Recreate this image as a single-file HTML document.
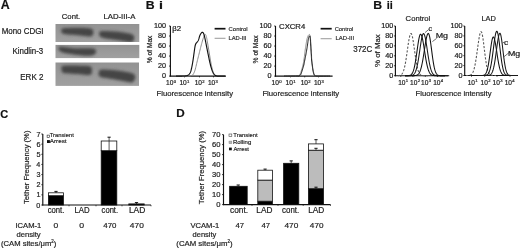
<!DOCTYPE html>
<html><head><meta charset="utf-8"><style>
html,body{margin:0;padding:0;background:#fff;width:520px;height:249px;overflow:hidden}
svg{display:block;font-family:"Liberation Sans", sans-serif;filter:blur(0.6px)}
text{stroke:#1e1e1e;stroke-width:0.2px}
</style></head><body>
<svg width="520" height="249" viewBox="0 0 520 249">
<rect width="520" height="249" fill="#fff"/>
<text transform="translate(0.79,8.50) scale(1.032,1)" font-size="12.0" font-weight="bold" fill="#111">A</text>
<text transform="translate(61.81,18.90) scale(1.001,1)" font-size="7.7" fill="#1e1e1e">Cont.</text>
<text transform="translate(103.38,18.90) scale(1.012,1)" font-size="7.7" fill="#1e1e1e">LAD-III-A</text>
<text transform="translate(1.66,33.70) scale(0.970,1)" font-size="8.2" fill="#1e1e1e">Mono CDGI</text>
<text transform="translate(12.47,54.20) scale(0.967,1)" font-size="8.2" fill="#1e1e1e">Kindlin-3</text>
<text transform="translate(20.26,79.60) scale(0.981,1)" font-size="8.2" fill="#1e1e1e">ERK 2</text>
<defs>
<filter id="blur1" x="-20%" y="-60%" width="140%" height="220%"><feGaussianBlur stdDeviation="1.4"/></filter>
<clipPath id="c1"><rect x="55.5" y="24" width="83.5" height="18"/></clipPath>
<clipPath id="c2"><rect x="55.5" y="44.9" width="83.5" height="13.5"/></clipPath>
<clipPath id="c3"><rect x="55.5" y="62.5" width="83.3" height="23.3"/></clipPath>
</defs>
<defs><linearGradient id="gp" x1="0" y1="0" x2="0" y2="1"><stop offset="0" stop-color="#939393"/><stop offset="1" stop-color="#a0a0a0"/></linearGradient></defs>
<rect x="55.5" y="24" width="83.8" height="18" fill="url(#gp)" stroke="none" stroke-width="0" />
<rect x="55.5" y="44.9" width="83.8" height="13.2" fill="url(#gp)" stroke="none" stroke-width="0" />
<rect x="55.5" y="62.5" width="83.5" height="23.4" fill="url(#gp)" stroke="none" stroke-width="0" />
<g clip-path="url(#c1)" filter="url(#blur1)"><path d="M61.30,30.36 L61.37,29.96 L61.37,29.56 L61.46,29.16 L61.79,28.80 L62.50,28.49 L63.75,28.23 L65.74,28.05 L68.39,27.92 L71.43,27.83 L74.57,27.79 L77.54,27.78 L80.07,27.79 L82.21,27.81 L84.19,27.85 L86.00,27.93 L87.63,28.04 L89.06,28.22 L90.27,28.46 L91.25,28.76 L92.01,29.11 L92.57,29.52 L92.95,29.99 L93.20,30.53 L93.33,31.15 L93.39,31.93 L93.37,32.90 L93.20,33.95 L92.84,34.94 L92.22,35.76 L91.29,36.30 L89.99,36.50 L88.34,36.45 L86.45,36.24 L84.38,35.94 L82.22,35.63 L80.07,35.40 L77.75,35.23 L75.15,35.05 L72.47,34.87 L69.89,34.68 L67.60,34.48 L65.79,34.28 L64.52,34.08 L63.64,33.90 L63.06,33.70 L62.66,33.48 L62.35,33.24 L62.02,32.94 L61.68,32.57 L61.44,32.15 L61.27,31.70 L61.19,31.23 L61.20,30.78Z" fill="#444"/></g>
<g clip-path="url(#c1)" filter="url(#blur1)"><path d="M99.26,32.67 L99.37,32.26 L99.45,31.89 L99.62,31.58 L99.98,31.32 L100.64,31.13 L101.71,30.99 L103.33,30.93 L105.44,30.95 L107.86,31.03 L110.38,31.15 L112.81,31.29 L114.97,31.44 L116.88,31.59 L118.71,31.77 L120.45,31.97 L122.11,32.19 L123.68,32.42 L125.17,32.67 L126.60,32.92 L127.97,33.16 L129.25,33.42 L130.42,33.71 L131.45,34.05 L132.31,34.46 L133.01,34.95 L133.56,35.51 L133.97,36.12 L134.24,36.75 L134.37,37.40 L134.35,38.05 L134.23,38.76 L134.01,39.57 L133.65,40.39 L133.11,41.13 L132.33,41.73 L131.29,42.08 L129.94,42.15 L128.31,42.00 L126.45,41.69 L124.42,41.29 L122.27,40.88 L120.07,40.51 L117.64,40.17 L114.89,39.81 L112.03,39.42 L109.25,39.03 L106.77,38.64 L104.77,38.27 L103.30,37.94 L102.21,37.64 L101.41,37.35 L100.81,37.04 L100.32,36.68 L99.88,36.26 L99.49,35.73 L99.24,35.11 L99.11,34.44 L99.08,33.78 L99.14,33.18Z" fill="#444"/></g>
<g clip-path="url(#c2)" filter="url(#blur1)"><path d="M58.43,47.65 L58.60,47.34 L58.82,47.09 L59.16,46.91 L59.70,46.78 L60.52,46.73 L61.70,46.75 L63.31,46.89 L65.30,47.15 L67.58,47.49 L70.02,47.83 L72.51,48.13 L74.96,48.32 L77.50,48.38 L80.27,48.34 L83.09,48.26 L85.81,48.17 L88.25,48.14 L90.26,48.21 L91.81,48.36 L93.05,48.55 L94.01,48.80 L94.75,49.09 L95.32,49.46 L95.77,49.89 L96.07,50.43 L96.17,51.10 L96.11,51.83 L95.90,52.57 L95.57,53.24 L95.15,53.81 L94.65,54.27 L94.04,54.68 L93.31,55.03 L92.44,55.33 L91.43,55.55 L90.26,55.71 L88.92,55.79 L87.44,55.80 L85.81,55.75 L84.03,55.63 L82.11,55.47 L80.06,55.26 L77.69,54.99 L74.96,54.65 L72.09,54.26 L69.29,53.84 L66.78,53.42 L64.76,53.02 L63.27,52.66 L62.16,52.31 L61.33,51.96 L60.69,51.60 L60.17,51.21 L59.66,50.78 L59.18,50.29 L58.80,49.72 L58.52,49.13 L58.37,48.56 L58.33,48.05Z" fill="#444"/></g>
<g clip-path="url(#c3)" filter="url(#blur1)"><path d="M61.51,67.54 L61.57,67.07 L61.54,66.67 L61.58,66.33 L61.87,66.05 L62.54,65.82 L63.76,65.64 L65.73,65.52 L68.38,65.47 L71.42,65.47 L74.57,65.51 L77.55,65.57 L80.08,65.64 L82.23,65.69 L84.25,65.73 L86.10,65.79 L87.74,65.90 L89.15,66.10 L90.28,66.42 L91.08,66.89 L91.58,67.48 L91.83,68.15 L91.93,68.88 L91.93,69.62 L91.91,70.34 L91.93,71.12 L91.93,71.98 L91.83,72.86 L91.58,73.68 L91.08,74.36 L90.28,74.82 L89.13,75.03 L87.70,75.03 L86.03,74.89 L84.17,74.68 L82.17,74.45 L80.08,74.26 L77.68,74.11 L74.89,73.94 L71.96,73.76 L69.14,73.56 L66.66,73.36 L64.78,73.14 L63.57,72.95 L62.85,72.78 L62.48,72.60 L62.31,72.38 L62.21,72.09 L62.02,71.69 L61.78,71.13 L61.59,70.42 L61.46,69.64 L61.40,68.86 L61.41,68.13Z" fill="#444"/></g>
<g clip-path="url(#c3)" filter="url(#blur1)"><path d="M99.03,71.58 L99.16,71.04 L99.28,70.59 L99.49,70.22 L99.89,69.93 L100.59,69.71 L101.68,69.56 L103.28,69.50 L105.31,69.54 L107.65,69.64 L110.13,69.81 L112.61,70.01 L114.94,70.23 L117.23,70.49 L119.62,70.80 L122.02,71.14 L124.31,71.51 L126.40,71.88 L128.20,72.25 L129.69,72.59 L130.96,72.92 L132.04,73.26 L132.94,73.62 L133.69,74.02 L134.32,74.49 L134.81,75.03 L135.12,75.63 L135.29,76.28 L135.33,76.95 L135.27,77.63 L135.14,78.30 L134.92,79.01 L134.61,79.81 L134.20,80.61 L133.68,81.34 L133.05,81.94 L132.28,82.33 L131.43,82.49 L130.52,82.47 L129.49,82.31 L128.28,82.05 L126.85,81.75 L125.14,81.43 L123.00,81.07 L120.46,80.62 L117.68,80.11 L114.86,79.59 L112.19,79.08 L109.84,78.63 L107.73,78.27 L105.71,77.98 L103.82,77.70 L102.14,77.40 L100.73,77.01 L99.64,76.50 L98.94,75.81 L98.60,74.96 L98.53,74.03 L98.63,73.11 L98.83,72.26Z" fill="#444"/></g>
<text transform="translate(145.80,8.70) scale(1.069,1)" font-size="11.5" font-weight="bold" fill="#111">B</text>
<text transform="translate(158.90,8.70) scale(1.242,1)" font-size="11.5" font-weight="bold" fill="#111">i</text>
<line x1="170.4" y1="26.0" x2="170.4" y2="76.6" stroke="#111" stroke-width="1.15" />
<line x1="169.9" y1="76.1" x2="226" y2="76.1" stroke="#111" stroke-width="1.15" />
<line x1="169.0" y1="76.1" x2="170.4" y2="76.1" stroke="#111" stroke-width="0.8" />
<text transform="translate(162.03,78.30) scale(1.150,1)" font-size="6.3" fill="#1e1e1e">0</text>
<line x1="169.0" y1="66.08" x2="170.4" y2="66.08" stroke="#111" stroke-width="0.8" />
<text transform="translate(158.01,68.28) scale(1.150,1)" font-size="6.3" fill="#1e1e1e">20</text>
<line x1="169.0" y1="56.059999999999995" x2="170.4" y2="56.059999999999995" stroke="#111" stroke-width="0.8" />
<text transform="translate(158.01,58.26) scale(1.150,1)" font-size="6.3" fill="#1e1e1e">40</text>
<line x1="169.0" y1="46.04" x2="170.4" y2="46.04" stroke="#111" stroke-width="0.8" />
<text transform="translate(158.01,48.24) scale(1.150,1)" font-size="6.3" fill="#1e1e1e">60</text>
<line x1="169.0" y1="36.019999999999996" x2="170.4" y2="36.019999999999996" stroke="#111" stroke-width="0.8" />
<text transform="translate(158.01,38.22) scale(1.150,1)" font-size="6.3" fill="#1e1e1e">80</text>
<line x1="169.0" y1="26.0" x2="170.4" y2="26.0" stroke="#111" stroke-width="0.8" />
<text transform="translate(153.99,28.20) scale(1.150,1)" font-size="6.3" fill="#1e1e1e">100</text>
<line x1="184.5" y1="76.1" x2="184.5" y2="77.39999999999999" stroke="#111" stroke-width="0.7" />
<line x1="199.5" y1="76.1" x2="199.5" y2="77.39999999999999" stroke="#111" stroke-width="0.7" />
<line x1="213.5" y1="76.1" x2="213.5" y2="77.39999999999999" stroke="#111" stroke-width="0.7" />
<text transform="translate(166.10,85.20) scale(1.000,1)" font-size="6.6" fill="#1e1e1e">10<tspan font-size="4.2" dx="0.3" dy="-2.6">0</tspan></text>
<text transform="translate(179.41,85.20) scale(1.000,1)" font-size="6.6" fill="#1e1e1e">10<tspan font-size="4.2" dx="0.3" dy="-2.6">1</tspan></text>
<text transform="translate(194.70,85.20) scale(1.000,1)" font-size="6.6" fill="#1e1e1e">10<tspan font-size="4.2" dx="0.3" dy="-2.6">2</tspan></text>
<text transform="translate(207.91,85.20) scale(1.000,1)" font-size="6.6" fill="#1e1e1e">10<tspan font-size="4.2" dx="0.3" dy="-2.6">3</tspan></text>
<text transform="translate(172.25,30.80) scale(1.222,1)" font-size="6.4" fill="#1e1e1e">β2</text>
<text transform="translate(156.58,95.80) scale(0.999,1)" font-size="7.7" fill="#1e1e1e">Fluorescence intensity</text>
<text transform="translate(152.30,63.23) rotate(-90) scale(0.949,1)" font-size="7.0" fill="#1e1e1e">% of Max</text>
<line x1="214.6" y1="28.7" x2="225.5" y2="28.7" stroke="#111" stroke-width="1.7" />
<text transform="translate(228.61,30.60) scale(1.179,1)" font-size="5.0" fill="#3a3a3a" style="stroke-width:0.16px">Control</text>
<line x1="214.6" y1="38.3" x2="225.5" y2="38.3" stroke="#a0a0a0" stroke-width="1.1" />
<text transform="translate(228.43,40.00) scale(1.163,1)" font-size="5.0" fill="#3a3a3a" style="stroke-width:0.16px">LAD-III</text>
<path d="M176.00,76.10 L177.41,76.09 L179.44,76.09 L181.81,76.07 L184.22,76.06 L186.38,76.04 L188.00,76.00 L189.03,75.96 L189.70,75.91 L190.12,75.86 L190.41,75.79 L190.66,75.70 L191.00,75.60 L191.39,75.51 L191.74,75.44 L192.06,75.35 L192.37,75.21 L192.68,74.97 L193.00,74.60 L193.33,74.11 L193.67,73.52 L194.00,72.84 L194.33,72.07 L194.67,71.19 L195.00,70.20 L195.33,69.06 L195.67,67.77 L196.00,66.38 L196.33,64.93 L196.67,63.49 L197.00,62.10 L197.33,60.76 L197.67,59.43 L198.00,58.09 L198.33,56.76 L198.67,55.43 L199.00,54.10 L199.33,52.76 L199.67,51.40 L200.00,50.04 L200.33,48.70 L200.67,47.38 L201.00,46.10 L201.34,44.82 L201.70,43.53 L202.05,42.26 L202.39,41.06 L202.71,39.96 L203.00,39.00 L203.25,38.19 L203.47,37.51 L203.67,36.93 L203.85,36.43 L204.03,36.00 L204.20,35.60 L204.37,35.25 L204.53,34.96 L204.67,34.74 L204.82,34.57 L204.96,34.46 L205.10,34.40 L205.24,34.39 L205.37,34.44 L205.51,34.55 L205.64,34.71 L205.77,34.93 L205.90,35.20 L206.03,35.53 L206.16,35.90 L206.29,36.34 L206.43,36.83 L206.56,37.38 L206.70,38.00 L206.84,38.69 L206.99,39.47 L207.14,40.30 L207.29,41.18 L207.44,42.08 L207.60,43.00 L207.76,43.94 L207.93,44.93 L208.09,45.94 L208.26,46.96 L208.43,47.99 L208.60,49.00 L208.77,50.00 L208.93,51.00 L209.10,52.00 L209.27,53.00 L209.43,54.00 L209.60,55.00 L209.77,56.01 L209.93,57.02 L210.09,58.03 L210.26,59.04 L210.43,60.03 L210.60,61.00 L210.78,61.95 L210.95,62.89 L211.13,63.81 L211.31,64.72 L211.50,65.62 L211.70,66.50 L211.90,67.38 L212.11,68.27 L212.32,69.15 L212.54,69.99 L212.76,70.78 L213.00,71.50 L213.25,72.15 L213.50,72.74 L213.76,73.29 L214.03,73.78 L214.31,74.22 L214.60,74.60 L214.89,74.92 L215.19,75.17 L215.49,75.38 L215.81,75.54 L216.15,75.67 L216.50,75.80 L216.84,75.91 L217.16,75.98 L217.49,76.02 L217.89,76.06 L218.37,76.08 L219.00,76.10 L219.87,76.12 L220.96,76.12 L222.16,76.12 L223.31,76.11 L224.31,76.10 L225.00,76.10" stroke="#8c8c8c" stroke-width="1.0" fill="none" stroke-linejoin="round" />
<path d="M176.00,76.10 L176.93,76.09 L178.26,76.09 L179.81,76.07 L181.41,76.06 L182.86,76.04 L184.00,76.00 L184.80,75.96 L185.41,75.92 L185.88,75.87 L186.26,75.80 L186.62,75.72 L187.00,75.60 L187.40,75.46 L187.76,75.30 L188.09,75.12 L188.41,74.92 L188.71,74.68 L189.00,74.40 L189.28,74.08 L189.56,73.73 L189.81,73.34 L190.06,72.93 L190.28,72.48 L190.50,72.00 L190.70,71.50 L190.87,70.97 L191.03,70.41 L191.19,69.82 L191.34,69.18 L191.50,68.50 L191.67,67.77 L191.83,67.00 L192.00,66.19 L192.17,65.33 L192.33,64.44 L192.50,63.50 L192.67,62.50 L192.84,61.44 L193.01,60.34 L193.17,59.22 L193.34,58.10 L193.50,57.00 L193.66,55.89 L193.81,54.76 L193.97,53.62 L194.12,52.52 L194.26,51.47 L194.40,50.50 L194.53,49.61 L194.64,48.77 L194.76,47.99 L194.87,47.27 L194.98,46.61 L195.10,46.00 L195.23,45.46 L195.35,45.00 L195.48,44.59 L195.61,44.23 L195.75,43.91 L195.90,43.60 L196.06,43.33 L196.22,43.12 L196.39,42.94 L196.56,42.77 L196.73,42.60 L196.90,42.40 L197.07,42.19 L197.24,41.97 L197.41,41.75 L197.57,41.52 L197.74,41.27 L197.90,41.00 L198.06,40.71 L198.21,40.41 L198.36,40.09 L198.51,39.75 L198.66,39.39 L198.80,39.00 L198.94,38.57 L199.07,38.10 L199.19,37.61 L199.32,37.12 L199.46,36.64 L199.60,36.20 L199.76,35.79 L199.92,35.39 L200.09,35.01 L200.26,34.64 L200.43,34.31 L200.60,34.00 L200.77,33.72 L200.94,33.47 L201.11,33.24 L201.28,33.03 L201.44,32.85 L201.60,32.70 L201.74,32.57 L201.88,32.47 L202.01,32.39 L202.14,32.33 L202.27,32.30 L202.40,32.30 L202.53,32.32 L202.67,32.35 L202.80,32.41 L202.93,32.50 L203.07,32.63 L203.20,32.80 L203.33,33.00 L203.46,33.22 L203.59,33.48 L203.72,33.79 L203.86,34.16 L204.00,34.60 L204.16,35.13 L204.32,35.73 L204.49,36.40 L204.66,37.11 L204.83,37.85 L205.00,38.60 L205.17,39.38 L205.33,40.19 L205.50,41.04 L205.67,41.90 L205.83,42.76 L206.00,43.60 L206.17,44.43 L206.33,45.27 L206.50,46.10 L206.67,46.93 L206.83,47.77 L207.00,48.60 L207.17,49.43 L207.33,50.27 L207.50,51.11 L207.67,51.94 L207.83,52.77 L208.00,53.60 L208.17,54.43 L208.33,55.26 L208.50,56.08 L208.67,56.90 L208.83,57.71 L209.00,58.50 L209.17,59.28 L209.33,60.05 L209.50,60.81 L209.67,61.55 L209.83,62.28 L210.00,63.00 L210.16,63.69 L210.32,64.36 L210.47,65.02 L210.64,65.67 L210.81,66.33 L211.00,67.00 L211.21,67.70 L211.43,68.43 L211.66,69.16 L211.90,69.88 L212.15,70.57 L212.40,71.20 L212.65,71.79 L212.91,72.35 L213.18,72.88 L213.44,73.36 L213.72,73.81 L214.00,74.20 L214.28,74.54 L214.57,74.82 L214.86,75.06 L215.16,75.26 L215.47,75.44 L215.80,75.60 L216.09,75.74 L216.33,75.85 L216.58,75.94 L216.90,76.00 L217.35,76.06 L218.00,76.10 L218.97,76.13 L220.24,76.14 L221.64,76.13 L223.01,76.12 L224.18,76.11 L225.00,76.10" stroke="#111" stroke-width="1.15" fill="none" stroke-linejoin="round" />
<line x1="275.5" y1="26.0" x2="275.5" y2="76.6" stroke="#111" stroke-width="1.15" />
<line x1="275.0" y1="76.1" x2="332.6" y2="76.1" stroke="#111" stroke-width="1.15" />
<line x1="274.1" y1="76.1" x2="275.5" y2="76.1" stroke="#111" stroke-width="0.8" />
<text transform="translate(267.53,78.30) scale(1.150,1)" font-size="6.3" fill="#1e1e1e">0</text>
<line x1="274.1" y1="66.08" x2="275.5" y2="66.08" stroke="#111" stroke-width="0.8" />
<text transform="translate(263.51,68.28) scale(1.150,1)" font-size="6.3" fill="#1e1e1e">20</text>
<line x1="274.1" y1="56.059999999999995" x2="275.5" y2="56.059999999999995" stroke="#111" stroke-width="0.8" />
<text transform="translate(263.51,58.26) scale(1.150,1)" font-size="6.3" fill="#1e1e1e">40</text>
<line x1="274.1" y1="46.04" x2="275.5" y2="46.04" stroke="#111" stroke-width="0.8" />
<text transform="translate(263.51,48.24) scale(1.150,1)" font-size="6.3" fill="#1e1e1e">60</text>
<line x1="274.1" y1="36.019999999999996" x2="275.5" y2="36.019999999999996" stroke="#111" stroke-width="0.8" />
<text transform="translate(263.51,38.22) scale(1.150,1)" font-size="6.3" fill="#1e1e1e">80</text>
<line x1="274.1" y1="26.0" x2="275.5" y2="26.0" stroke="#111" stroke-width="0.8" />
<text transform="translate(259.49,28.20) scale(1.150,1)" font-size="6.3" fill="#1e1e1e">100</text>
<line x1="290.5" y1="76.1" x2="290.5" y2="77.39999999999999" stroke="#111" stroke-width="0.7" />
<line x1="304.7" y1="76.1" x2="304.7" y2="77.39999999999999" stroke="#111" stroke-width="0.7" />
<line x1="318.5" y1="76.1" x2="318.5" y2="77.39999999999999" stroke="#111" stroke-width="0.7" />
<text transform="translate(271.50,85.20) scale(1.000,1)" font-size="6.6" fill="#1e1e1e">10<tspan font-size="4.2" dx="0.3" dy="-2.6">0</tspan></text>
<text transform="translate(285.50,85.20) scale(1.000,1)" font-size="6.6" fill="#1e1e1e">10<tspan font-size="4.2" dx="0.3" dy="-2.6">1</tspan></text>
<text transform="translate(300.70,85.20) scale(1.000,1)" font-size="6.6" fill="#1e1e1e">10<tspan font-size="4.2" dx="0.3" dy="-2.6">2</tspan></text>
<text transform="translate(313.90,85.20) scale(1.000,1)" font-size="6.6" fill="#1e1e1e">10<tspan font-size="4.2" dx="0.3" dy="-2.6">3</tspan></text>
<text transform="translate(279.11,28.80) scale(1.204,1)" font-size="6.4" fill="#1e1e1e">CXCR4</text>
<text transform="translate(262.38,95.80) scale(1.004,1)" font-size="7.7" fill="#1e1e1e">Fluorescence intensity</text>
<text transform="translate(258.40,63.44) rotate(-90) scale(0.959,1)" font-size="7.0" fill="#1e1e1e">% of Max</text>
<line x1="320.6" y1="28.7" x2="331.7" y2="28.7" stroke="#111" stroke-width="1.7" />
<text transform="translate(334.71,30.60) scale(1.147,1)" font-size="5.0" fill="#3a3a3a" style="stroke-width:0.16px">Control</text>
<line x1="320.6" y1="38.7" x2="331.7" y2="38.7" stroke="#a0a0a0" stroke-width="1.1" />
<text transform="translate(335.52,40.20) scale(1.197,1)" font-size="5.0" fill="#3a3a3a" style="stroke-width:0.16px">LAD-III</text>
<path d="M284.00,76.10 L285.42,76.09 L287.46,76.09 L289.84,76.08 L292.26,76.07 L294.41,76.04 L296.00,76.00 L296.98,75.95 L297.57,75.89 L297.91,75.81 L298.09,75.73 L298.25,75.62 L298.50,75.50 L298.81,75.39 L299.07,75.30 L299.31,75.19 L299.53,75.03 L299.76,74.78 L300.00,74.40 L300.26,73.86 L300.53,73.20 L300.81,72.44 L301.08,71.63 L301.34,70.81 L301.60,70.00 L301.85,69.20 L302.10,68.38 L302.34,67.54 L302.58,66.69 L302.80,65.84 L303.00,65.00 L303.18,64.17 L303.34,63.33 L303.49,62.50 L303.63,61.67 L303.77,60.83 L303.90,60.00 L304.03,59.17 L304.15,58.33 L304.27,57.50 L304.38,56.67 L304.49,55.83 L304.60,55.00 L304.70,54.17 L304.80,53.33 L304.89,52.50 L304.99,51.67 L305.09,50.83 L305.20,50.00 L305.32,49.17 L305.45,48.33 L305.59,47.50 L305.73,46.67 L305.86,45.83 L306.00,45.00 L306.13,44.15 L306.26,43.28 L306.39,42.41 L306.52,41.56 L306.66,40.75 L306.80,40.00 L306.96,39.31 L307.12,38.66 L307.29,38.04 L307.46,37.48 L307.63,36.96 L307.80,36.50 L307.97,36.10 L308.14,35.74 L308.31,35.44 L308.48,35.19 L308.64,34.98 L308.80,34.80 L308.95,34.66 L309.09,34.56 L309.23,34.51 L309.36,34.49 L309.48,34.52 L309.60,34.60 L309.71,34.71 L309.82,34.85 L309.93,35.04 L310.02,35.28 L310.11,35.60 L310.20,36.00 L310.28,36.50 L310.35,37.10 L310.42,37.77 L310.48,38.50 L310.54,39.25 L310.60,40.00 L310.66,40.78 L310.71,41.59 L310.76,42.44 L310.80,43.30 L310.85,44.16 L310.90,45.00 L310.95,45.83 L311.00,46.67 L311.05,47.50 L311.10,48.33 L311.15,49.17 L311.20,50.00 L311.25,50.83 L311.30,51.67 L311.35,52.50 L311.40,53.33 L311.45,54.17 L311.50,55.00 L311.55,55.83 L311.59,56.67 L311.63,57.50 L311.68,58.33 L311.73,59.17 L311.80,60.00 L311.88,60.83 L311.97,61.67 L312.07,62.50 L312.18,63.33 L312.29,64.17 L312.40,65.00 L312.51,65.84 L312.61,66.70 L312.72,67.56 L312.84,68.41 L312.96,69.22 L313.10,70.00 L313.25,70.75 L313.41,71.50 L313.58,72.21 L313.75,72.88 L313.92,73.48 L314.10,74.00 L314.27,74.42 L314.43,74.75 L314.60,75.02 L314.78,75.24 L314.98,75.42 L315.20,75.60 L315.33,75.75 L315.33,75.87 L315.36,75.95 L315.54,76.01 L316.04,76.06 L317.00,76.10 L318.67,76.13 L320.99,76.14 L323.61,76.13 L326.21,76.12 L328.46,76.11 L330.00,76.10" stroke="#8a8a8a" stroke-width="1.0" fill="none" stroke-linejoin="round" />
<path d="M284.00,76.10 L285.54,76.09 L287.77,76.09 L290.36,76.07 L292.99,76.06 L295.31,76.04 L297.00,76.00 L298.00,75.96 L298.56,75.92 L298.81,75.87 L298.91,75.80 L298.99,75.72 L299.20,75.60 L299.50,75.48 L299.78,75.38 L300.04,75.25 L300.30,75.07 L300.55,74.79 L300.80,74.40 L301.06,73.86 L301.31,73.19 L301.56,72.44 L301.80,71.63 L302.05,70.81 L302.30,70.00 L302.56,69.20 L302.82,68.38 L303.08,67.54 L303.34,66.69 L303.58,65.84 L303.80,65.00 L304.00,64.17 L304.17,63.33 L304.33,62.50 L304.49,61.67 L304.64,60.83 L304.80,60.00 L304.97,59.17 L305.14,58.33 L305.31,57.50 L305.47,56.67 L305.64,55.83 L305.80,55.00 L305.96,54.17 L306.11,53.33 L306.26,52.50 L306.41,51.67 L306.56,50.83 L306.70,50.00 L306.84,49.17 L306.98,48.33 L307.11,47.50 L307.24,46.67 L307.37,45.83 L307.50,45.00 L307.62,44.14 L307.74,43.26 L307.86,42.38 L307.97,41.52 L308.08,40.72 L308.20,40.00 L308.32,39.36 L308.44,38.78 L308.56,38.25 L308.67,37.78 L308.79,37.36 L308.90,37.00 L309.01,36.70 L309.11,36.46 L309.21,36.28 L309.31,36.15 L309.41,36.06 L309.50,36.00 L309.59,35.96 L309.68,35.94 L309.76,35.97 L309.84,36.06 L309.92,36.23 L310.00,36.50 L310.07,36.89 L310.14,37.39 L310.21,37.97 L310.28,38.61 L310.34,39.30 L310.40,40.00 L310.46,40.75 L310.51,41.56 L310.56,42.41 L310.60,43.28 L310.65,44.15 L310.70,45.00 L310.75,45.83 L310.80,46.67 L310.85,47.50 L310.90,48.33 L310.95,49.17 L311.00,50.00 L311.05,50.83 L311.10,51.67 L311.15,52.50 L311.20,53.33 L311.25,54.17 L311.30,55.00 L311.35,55.83 L311.39,56.67 L311.43,57.50 L311.48,58.33 L311.53,59.17 L311.60,60.00 L311.68,60.83 L311.77,61.67 L311.88,62.50 L311.98,63.33 L312.09,64.17 L312.20,65.00 L312.31,65.84 L312.42,66.70 L312.53,67.56 L312.65,68.41 L312.77,69.22 L312.90,70.00 L313.03,70.75 L313.17,71.50 L313.32,72.21 L313.47,72.88 L313.63,73.48 L313.80,74.00 L313.97,74.42 L314.15,74.75 L314.33,75.02 L314.53,75.24 L314.75,75.42 L315.00,75.60 L315.16,75.75 L315.20,75.87 L315.26,75.95 L315.49,76.01 L316.02,76.06 L317.00,76.10 L318.68,76.13 L321.00,76.14 L323.62,76.13 L326.22,76.12 L328.46,76.11 L330.00,76.10" stroke="#111" stroke-width="1.0" fill="none" stroke-linejoin="round" />
<text transform="translate(373.30,8.90) scale(1.069,1)" font-size="11.5" font-weight="bold" fill="#111">B</text>
<text transform="translate(386.73,8.90) scale(0.952,1)" font-size="11.5" font-weight="bold" fill="#111">ii</text>
<text transform="translate(353.28,51.60) scale(0.969,1)" font-size="8.2" fill="#1e1e1e">372C</text>
<line x1="395.4" y1="26.0" x2="395.4" y2="76.2" stroke="#111" stroke-width="1.15" />
<line x1="394.9" y1="75.7" x2="449.2" y2="75.7" stroke="#111" stroke-width="1.15" />
<line x1="394.0" y1="75.7" x2="395.4" y2="75.7" stroke="#111" stroke-width="0.8" />
<text transform="translate(389.23,77.91) scale(1.150,1)" font-size="6.3" fill="#1e1e1e">0</text>
<line x1="394.0" y1="65.76" x2="395.4" y2="65.76" stroke="#111" stroke-width="0.8" />
<text transform="translate(385.21,67.97) scale(1.150,1)" font-size="6.3" fill="#1e1e1e">20</text>
<line x1="394.0" y1="55.82" x2="395.4" y2="55.82" stroke="#111" stroke-width="0.8" />
<text transform="translate(385.21,58.02) scale(1.150,1)" font-size="6.3" fill="#1e1e1e">40</text>
<line x1="394.0" y1="45.879999999999995" x2="395.4" y2="45.879999999999995" stroke="#111" stroke-width="0.8" />
<text transform="translate(385.21,48.08) scale(1.150,1)" font-size="6.3" fill="#1e1e1e">60</text>
<line x1="394.0" y1="35.94" x2="395.4" y2="35.94" stroke="#111" stroke-width="0.8" />
<text transform="translate(385.21,38.14) scale(1.150,1)" font-size="6.3" fill="#1e1e1e">80</text>
<line x1="394.0" y1="26.0" x2="395.4" y2="26.0" stroke="#111" stroke-width="0.8" />
<text transform="translate(381.19,28.20) scale(1.150,1)" font-size="6.3" fill="#1e1e1e">100</text>
<line x1="400.8" y1="75.7" x2="400.8" y2="77.0" stroke="#111" stroke-width="0.7" />
<line x1="412.9" y1="75.7" x2="412.9" y2="77.0" stroke="#111" stroke-width="0.7" />
<line x1="425.3" y1="75.7" x2="425.3" y2="77.0" stroke="#111" stroke-width="0.7" />
<line x1="437.4" y1="75.7" x2="437.4" y2="77.0" stroke="#111" stroke-width="0.7" />
<text transform="translate(398.20,84.80) scale(1.000,1)" font-size="6.6" fill="#1e1e1e">10<tspan font-size="4.2" dx="0.3" dy="-2.6">1</tspan></text>
<text transform="translate(410.00,84.80) scale(1.000,1)" font-size="6.6" fill="#1e1e1e">10<tspan font-size="4.2" dx="0.3" dy="-2.6">2</tspan></text>
<text transform="translate(421.11,84.80) scale(1.000,1)" font-size="6.6" fill="#1e1e1e">10<tspan font-size="4.2" dx="0.3" dy="-2.6">3</tspan></text>
<text transform="translate(433.20,84.80) scale(1.000,1)" font-size="6.6" fill="#1e1e1e">10<tspan font-size="4.2" dx="0.3" dy="-2.6">4</tspan></text>
<text transform="translate(405.62,21.20) scale(0.958,1)" font-size="8.0" fill="#1e1e1e">Control</text>
<text transform="translate(380.40,66.97) rotate(-90) scale(1.122,1)" font-size="7.0" fill="#1e1e1e">% of Max</text>
<line x1="464.7" y1="26.0" x2="464.7" y2="76.0" stroke="#111" stroke-width="1.15" />
<line x1="464.2" y1="75.5" x2="518" y2="75.5" stroke="#111" stroke-width="1.15" />
<line x1="463.3" y1="75.5" x2="464.7" y2="75.5" stroke="#111" stroke-width="0.8" />
<text transform="translate(458.43,77.70) scale(1.150,1)" font-size="6.3" fill="#1e1e1e">0</text>
<line x1="463.3" y1="65.6" x2="464.7" y2="65.6" stroke="#111" stroke-width="0.8" />
<text transform="translate(454.41,67.80) scale(1.150,1)" font-size="6.3" fill="#1e1e1e">20</text>
<line x1="463.3" y1="55.7" x2="464.7" y2="55.7" stroke="#111" stroke-width="0.8" />
<text transform="translate(454.41,57.91) scale(1.150,1)" font-size="6.3" fill="#1e1e1e">40</text>
<line x1="463.3" y1="45.8" x2="464.7" y2="45.8" stroke="#111" stroke-width="0.8" />
<text transform="translate(454.41,48.00) scale(1.150,1)" font-size="6.3" fill="#1e1e1e">60</text>
<line x1="463.3" y1="35.9" x2="464.7" y2="35.9" stroke="#111" stroke-width="0.8" />
<text transform="translate(454.41,38.10) scale(1.150,1)" font-size="6.3" fill="#1e1e1e">80</text>
<line x1="463.3" y1="26.0" x2="464.7" y2="26.0" stroke="#111" stroke-width="0.8" />
<text transform="translate(450.39,28.20) scale(1.150,1)" font-size="6.3" fill="#1e1e1e">100</text>
<line x1="471.5" y1="75.5" x2="471.5" y2="76.8" stroke="#111" stroke-width="0.7" />
<line x1="484.7" y1="75.5" x2="484.7" y2="76.8" stroke="#111" stroke-width="0.7" />
<line x1="497" y1="75.5" x2="497" y2="76.8" stroke="#111" stroke-width="0.7" />
<line x1="510" y1="75.5" x2="510" y2="76.8" stroke="#111" stroke-width="0.7" />
<text transform="translate(467.70,84.80) scale(1.000,1)" font-size="6.6" fill="#1e1e1e">10<tspan font-size="4.2" dx="0.3" dy="-2.6">1</tspan></text>
<text transform="translate(480.50,84.80) scale(1.000,1)" font-size="6.6" fill="#1e1e1e">10<tspan font-size="4.2" dx="0.3" dy="-2.6">2</tspan></text>
<text transform="translate(492.50,84.80) scale(1.000,1)" font-size="6.6" fill="#1e1e1e">10<tspan font-size="4.2" dx="0.3" dy="-2.6">3</tspan></text>
<text transform="translate(504.70,84.80) scale(1.000,1)" font-size="6.6" fill="#1e1e1e">10<tspan font-size="4.2" dx="0.3" dy="-2.6">4</tspan></text>
<text transform="translate(481.40,21.20) scale(0.934,1)" font-size="8.0" fill="#1e1e1e">LAD</text>
<text transform="translate(415.59,95.80) scale(0.993,1)" font-size="7.7" fill="#1e1e1e">Fluorescence intensity</text>
<path d="M398.00,75.64 L398.25,75.62 L398.50,75.60 L398.75,75.57 L399.00,75.54 L399.25,75.49 L399.50,75.44 L399.75,75.38 L400.00,75.30 L400.25,75.21 L400.50,75.10 L400.75,74.97 L401.00,74.81 L401.25,74.62 L401.50,74.40 L401.75,74.15 L402.00,73.85 L402.25,73.50 L402.50,73.10 L402.75,72.65 L403.00,72.13 L403.25,71.54 L403.50,70.88 L403.75,70.15 L404.00,69.33 L404.25,68.42 L404.50,67.43 L404.75,66.35 L405.00,65.18 L405.25,63.91 L405.50,62.56 L405.75,61.13 L406.00,59.61 L406.25,58.03 L406.50,56.38 L406.75,54.68 L407.00,52.94 L407.25,51.17 L407.50,49.39 L407.75,47.62 L408.00,45.88 L408.25,44.18 L408.50,42.54 L408.75,40.99 L409.00,39.53 L409.25,38.20 L409.50,37.01 L409.75,35.97 L410.00,35.10 L410.25,34.41 L410.50,33.91 L410.75,33.60 L411.00,33.50 L411.25,33.61 L411.50,33.93 L411.75,34.46 L412.00,35.19 L412.25,36.11 L412.50,37.20 L412.75,38.46 L413.00,39.86 L413.25,41.38 L413.50,43.00 L413.75,44.71 L414.00,46.47 L414.25,48.28 L414.50,50.10 L414.75,51.93 L415.00,53.74 L415.25,55.51 L415.50,57.23 L415.75,58.90 L416.00,60.49 L416.25,62.00 L416.50,63.42 L416.75,64.75 L417.00,65.99 L417.25,67.13 L417.50,68.18 L417.75,69.13 L418.00,69.99 L418.25,70.76 L418.50,71.45 L418.75,72.06 L419.00,72.60 L419.25,73.08 L419.50,73.49 L419.75,73.85 L420.00,74.15 L420.25,74.42 L420.50,74.64 L420.75,74.83 L421.00,74.99 L421.25,75.12 L421.50,75.23 L421.75,75.32 L422.00,75.40 L422.25,75.46 L422.50,75.51 L422.75,75.55 L423.00,75.58 L423.25,75.61 L423.50,75.63 L423.75,75.64 L424.00,75.66 L424.25,75.67 L424.50,75.68 L424.75,75.68 L425.00,75.69 L425.25,75.69 L425.50,75.69 L425.75,75.69 L426.00,75.70 L426.25,75.70 L426.50,75.70 L426.75,75.70 L427.00,75.70 L427.25,75.70 L427.50,75.70 L427.75,75.70 L428.00,75.70" stroke="#5a5a5a" stroke-width="1.1" fill="none" stroke-linejoin="round" stroke-dasharray="2.2,1.6"/>
<path d="M405.00,75.70 L405.33,75.70 L405.67,75.70 L406.00,75.69 L406.33,75.69 L406.67,75.68 L407.00,75.68 L407.33,75.67 L407.67,75.66 L408.00,75.64 L408.33,75.61 L408.67,75.58 L409.00,75.53 L409.33,75.47 L409.67,75.38 L410.00,75.28 L410.33,75.14 L410.67,74.96 L411.00,74.74 L411.33,74.45 L411.67,74.10 L412.00,73.67 L412.33,73.15 L412.67,72.52 L413.00,71.77 L413.33,70.89 L413.67,69.87 L414.00,68.69 L414.33,67.35 L414.67,65.84 L415.00,64.16 L415.33,62.32 L415.67,60.33 L416.00,58.20 L416.33,55.96 L416.67,53.63 L417.00,51.25 L417.33,48.85 L417.67,46.49 L418.00,44.21 L418.33,42.05 L418.67,40.07 L419.00,38.32 L419.33,36.83 L419.67,35.65 L420.00,34.81 L420.33,34.32 L420.67,34.21 L421.00,34.42 L421.33,34.93 L421.67,35.72 L422.00,36.79 L422.33,38.10 L422.67,39.64 L423.00,41.36 L423.33,43.24 L423.67,45.24 L424.00,47.32 L424.33,49.45 L424.67,51.60 L425.00,53.74 L425.33,55.83 L425.67,57.85 L426.00,59.79 L426.33,61.61 L426.67,63.32 L427.00,64.90 L427.33,66.35 L427.67,67.66 L428.00,68.84 L428.33,69.89 L428.67,70.81 L429.00,71.62 L429.33,72.32 L429.67,72.92 L430.00,73.43 L430.33,73.86 L430.67,74.22 L431.00,74.51 L431.33,74.76 L431.67,74.96 L432.00,75.12 L432.33,75.25 L432.67,75.35 L433.00,75.44 L433.33,75.50 L433.67,75.55 L434.00,75.59 L434.33,75.62 L434.67,75.64 L435.00,75.65 L435.33,75.67 L435.67,75.68 L436.00,75.68 L436.33,75.69 L436.67,75.69 L437.00,75.69 L437.33,75.70 L437.67,75.70 L438.00,75.70 L438.33,75.70 L438.67,75.70 L439.00,75.70 L439.33,75.70 L439.67,75.70 L440.00,75.70 L440.33,75.70 L440.67,75.70 L441.00,75.70 L441.33,75.70 L441.67,75.70 L442.00,75.70 L442.33,75.70 L442.67,75.70 L443.00,75.70 L443.33,75.70 L443.67,75.70 L444.00,75.70 L444.33,75.70 L444.67,75.70 L445.00,75.70" stroke="#111" stroke-width="1.05" fill="none" stroke-linejoin="round" />
<path d="M405.00,75.70 L405.33,75.70 L405.67,75.70 L406.00,75.70 L406.33,75.70 L406.67,75.70 L407.00,75.70 L407.33,75.70 L407.67,75.70 L408.00,75.69 L408.33,75.69 L408.67,75.69 L409.00,75.68 L409.33,75.67 L409.67,75.66 L410.00,75.65 L410.33,75.63 L410.67,75.60 L411.00,75.56 L411.33,75.51 L411.67,75.45 L412.00,75.36 L412.33,75.26 L412.67,75.12 L413.00,74.95 L413.33,74.73 L413.67,74.47 L414.00,74.14 L414.33,73.74 L414.67,73.26 L415.00,72.69 L415.33,72.02 L415.67,71.22 L416.00,70.30 L416.33,69.25 L416.67,68.05 L417.00,66.70 L417.33,65.20 L417.67,63.55 L418.00,61.75 L418.33,59.82 L418.67,57.76 L419.00,55.61 L419.33,53.37 L419.67,51.08 L420.00,48.79 L420.33,46.51 L420.67,44.30 L421.00,42.19 L421.33,40.23 L421.67,38.46 L422.00,36.92 L422.33,35.64 L422.67,34.65 L423.00,33.98 L423.33,33.64 L423.67,33.64 L424.00,33.96 L424.33,34.60 L424.67,35.54 L425.00,36.76 L425.33,38.23 L425.67,39.92 L426.00,41.79 L426.33,43.82 L426.67,45.95 L427.00,48.15 L427.33,50.39 L427.67,52.62 L428.00,54.82 L428.33,56.95 L428.67,58.99 L429.00,60.93 L429.33,62.74 L429.67,64.42 L430.00,65.95 L430.33,67.34 L430.67,68.59 L431.00,69.70 L431.33,70.67 L431.67,71.52 L432.00,72.25 L432.33,72.88 L432.67,73.41 L433.00,73.85 L433.33,74.22 L433.67,74.53 L434.00,74.77 L434.33,74.98 L434.67,75.14 L435.00,75.27 L435.33,75.37 L435.67,75.45 L436.00,75.51 L436.33,75.56 L436.67,75.60 L437.00,75.62 L437.33,75.64 L437.67,75.66 L438.00,75.67 L438.33,75.68 L438.67,75.69 L439.00,75.69 L439.33,75.69 L439.67,75.70 L440.00,75.70 L440.33,75.70 L440.67,75.70 L441.00,75.70 L441.33,75.70 L441.67,75.70 L442.00,75.70 L442.33,75.70 L442.67,75.70 L443.00,75.70 L443.33,75.70 L443.67,75.70 L444.00,75.70 L444.33,75.70 L444.67,75.70 L445.00,75.70" stroke="#1a1a1a" stroke-width="1.05" fill="none" stroke-linejoin="round" />
<path d="M405.00,75.70 L405.36,75.70 L405.72,75.70 L406.07,75.70 L406.43,75.70 L406.79,75.70 L407.15,75.70 L407.51,75.70 L407.87,75.70 L408.23,75.70 L408.58,75.70 L408.94,75.70 L409.30,75.70 L409.66,75.70 L410.02,75.70 L410.38,75.70 L410.73,75.70 L411.09,75.70 L411.45,75.70 L411.81,75.69 L412.17,75.69 L412.52,75.69 L412.88,75.68 L413.24,75.68 L413.60,75.67 L413.96,75.65 L414.32,75.63 L414.68,75.61 L415.03,75.57 L415.39,75.52 L415.75,75.46 L416.11,75.38 L416.47,75.28 L416.82,75.14 L417.18,74.97 L417.54,74.76 L417.90,74.49 L418.26,74.16 L418.62,73.76 L418.98,73.27 L419.33,72.69 L419.69,72.00 L420.05,71.19 L420.41,70.24 L420.77,69.15 L421.12,67.91 L421.48,66.52 L421.84,64.96 L422.20,63.25 L422.56,61.39 L422.92,59.38 L423.27,57.26 L423.63,55.03 L423.99,52.72 L424.35,50.37 L424.71,48.02 L425.07,45.70 L425.43,43.46 L425.78,41.35 L426.14,39.41 L426.50,37.67 L426.86,36.19 L427.22,35.00 L427.57,34.12 L427.93,33.59 L428.29,33.40 L428.65,33.64 L429.01,34.36 L429.37,35.55 L429.73,37.17 L430.08,39.15 L430.44,41.43 L430.80,43.95 L431.16,46.63 L431.52,49.40 L431.88,52.18 L432.23,54.91 L432.59,57.54 L432.95,60.03 L433.31,62.33 L433.67,64.43 L434.02,66.31 L434.38,67.97 L434.74,69.41 L435.10,70.64 L435.46,71.68 L435.82,72.54 L436.18,73.25 L436.53,73.82 L436.89,74.27 L437.25,74.63 L437.61,74.91 L437.97,75.12 L438.32,75.28 L438.68,75.40 L439.04,75.49 L439.40,75.55 L439.76,75.60 L440.12,75.63 L440.48,75.65 L440.83,75.67 L441.19,75.68 L441.55,75.69 L441.91,75.69 L442.27,75.69 L442.62,75.70 L442.98,75.70 L443.34,75.70 L443.70,75.70 L444.06,75.70 L444.42,75.70 L444.77,75.70 L445.13,75.70 L445.49,75.70 L445.85,75.70 L446.21,75.70 L446.57,75.70 L446.93,75.70 L447.28,75.70 L447.64,75.70 L448.00,75.70" stroke="#111" stroke-width="1.05" fill="none" stroke-linejoin="round" />
<line x1="425.0" y1="32.6" x2="428.6" y2="29.6" stroke="#111" stroke-width="0.6" />
<text transform="translate(428.41,30.80) scale(1.080,1)" font-size="6.6" fill="#1e1e1e">c</text>
<line x1="432.4" y1="41.6" x2="436.6" y2="38.4" stroke="#111" stroke-width="0.6" />
<text transform="translate(435.69,38.20) scale(1.351,1)" font-size="6.6" fill="#1e1e1e">Mg</text>
<path d="M466.00,75.49 L466.25,75.49 L466.50,75.49 L466.75,75.48 L467.00,75.48 L467.25,75.47 L467.50,75.47 L467.75,75.45 L468.00,75.44 L468.25,75.43 L468.50,75.40 L468.75,75.38 L469.00,75.35 L469.25,75.31 L469.50,75.26 L469.75,75.20 L470.00,75.12 L470.25,75.03 L470.50,74.93 L470.75,74.80 L471.00,74.64 L471.25,74.46 L471.50,74.25 L471.75,74.00 L472.00,73.71 L472.25,73.37 L472.50,72.98 L472.75,72.53 L473.00,72.02 L473.25,71.44 L473.50,70.78 L473.75,70.05 L474.00,69.24 L474.25,68.33 L474.50,67.34 L474.75,66.26 L475.00,65.08 L475.25,63.80 L475.50,62.44 L475.75,60.98 L476.00,59.44 L476.25,57.83 L476.50,56.14 L476.75,54.39 L477.00,52.60 L477.25,50.78 L477.50,48.93 L477.75,47.09 L478.00,45.27 L478.25,43.48 L478.50,41.76 L478.75,40.10 L479.00,38.55 L479.25,37.12 L479.50,35.82 L479.75,34.67 L480.00,33.70 L480.25,32.90 L480.50,32.30 L480.75,31.91 L481.00,31.72 L481.25,31.75 L481.50,32.04 L481.75,32.59 L482.00,33.40 L482.25,34.44 L482.50,35.70 L482.75,37.15 L483.00,38.78 L483.25,40.55 L483.50,42.44 L483.75,44.41 L484.00,46.45 L484.25,48.52 L484.50,50.59 L484.75,52.65 L485.00,54.66 L485.25,56.61 L485.50,58.48 L485.75,60.26 L486.00,61.94 L486.25,63.50 L486.50,64.95 L486.75,66.28 L487.00,67.50 L487.25,68.59 L487.50,69.57 L487.75,70.45 L488.00,71.22 L488.25,71.89 L488.50,72.48 L488.75,72.99 L489.00,73.42 L489.25,73.79 L489.50,74.10 L489.75,74.37 L490.00,74.58 L490.25,74.77 L490.50,74.91 L490.75,75.04 L491.00,75.13 L491.25,75.21 L491.50,75.28 L491.75,75.33 L492.00,75.37 L492.25,75.40 L492.50,75.42 L492.75,75.44 L493.00,75.46 L493.25,75.47 L493.50,75.48 L493.75,75.48 L494.00,75.49 L494.25,75.49 L494.50,75.49 L494.75,75.50 L495.00,75.50 L495.25,75.50 L495.50,75.50 L495.75,75.50 L496.00,75.50" stroke="#5a5a5a" stroke-width="1.1" fill="none" stroke-linejoin="round" stroke-dasharray="2.2,1.6"/>
<path d="M478.00,75.50 L478.31,75.50 L478.62,75.50 L478.93,75.50 L479.23,75.50 L479.54,75.50 L479.85,75.50 L480.16,75.50 L480.47,75.49 L480.77,75.49 L481.08,75.48 L481.39,75.48 L481.70,75.46 L482.01,75.45 L482.32,75.43 L482.62,75.40 L482.93,75.36 L483.24,75.30 L483.55,75.23 L483.86,75.13 L484.17,75.00 L484.48,74.83 L484.78,74.62 L485.09,74.34 L485.40,74.00 L485.71,73.58 L486.02,73.06 L486.32,72.44 L486.63,71.69 L486.94,70.80 L487.25,69.77 L487.56,68.57 L487.87,67.21 L488.18,65.68 L488.48,63.99 L488.79,62.13 L489.10,60.12 L489.41,57.99 L489.72,55.76 L490.02,53.47 L490.33,51.14 L490.64,48.84 L490.95,46.61 L491.26,44.51 L491.57,42.57 L491.88,40.86 L492.18,39.42 L492.49,38.29 L492.80,37.50 L493.11,37.07 L493.42,37.02 L493.73,37.28 L494.03,37.84 L494.34,38.67 L494.65,39.76 L494.96,41.09 L495.27,42.62 L495.57,44.33 L495.88,46.18 L496.19,48.13 L496.50,50.15 L496.81,52.20 L497.12,54.26 L497.43,56.28 L497.73,58.24 L498.04,60.12 L498.35,61.90 L498.66,63.57 L498.97,65.12 L499.27,66.53 L499.58,67.82 L499.89,68.96 L500.20,69.99 L500.51,70.88 L500.82,71.66 L501.12,72.34 L501.43,72.91 L501.74,73.40 L502.05,73.81 L502.36,74.15 L502.67,74.43 L502.98,74.66 L503.28,74.84 L503.59,74.99 L503.90,75.11 L504.21,75.20 L504.52,75.27 L504.82,75.33 L505.13,75.37 L505.44,75.41 L505.75,75.43 L506.06,75.45 L506.37,75.46 L506.68,75.47 L506.98,75.48 L507.29,75.49 L507.60,75.49 L507.91,75.49 L508.22,75.50 L508.52,75.50 L508.83,75.50 L509.14,75.50 L509.45,75.50 L509.76,75.50 L510.07,75.50 L510.38,75.50 L510.68,75.50 L510.99,75.50 L511.30,75.50 L511.61,75.50 L511.92,75.50 L512.23,75.50 L512.53,75.50 L512.84,75.50 L513.15,75.50 L513.46,75.50 L513.77,75.50 L514.08,75.50 L514.38,75.50 L514.69,75.50 L515.00,75.50" stroke="#111" stroke-width="1.05" fill="none" stroke-linejoin="round" />
<path d="M478.00,75.50 L478.31,75.50 L478.62,75.50 L478.93,75.50 L479.23,75.50 L479.54,75.50 L479.85,75.50 L480.16,75.50 L480.47,75.50 L480.77,75.50 L481.08,75.50 L481.39,75.50 L481.70,75.50 L482.01,75.50 L482.32,75.49 L482.62,75.49 L482.93,75.49 L483.24,75.48 L483.55,75.48 L483.86,75.47 L484.17,75.46 L484.48,75.44 L484.78,75.41 L485.09,75.38 L485.40,75.34 L485.71,75.28 L486.02,75.21 L486.32,75.12 L486.63,74.99 L486.94,74.84 L487.25,74.64 L487.56,74.40 L487.87,74.10 L488.18,73.73 L488.48,73.28 L488.79,72.73 L489.10,72.09 L489.41,71.33 L489.72,70.44 L490.02,69.42 L490.33,68.24 L490.64,66.91 L490.95,65.42 L491.26,63.76 L491.57,61.95 L491.88,59.98 L492.18,57.88 L492.49,55.65 L492.80,53.33 L493.11,50.93 L493.42,48.50 L493.73,46.07 L494.03,43.69 L494.34,41.39 L494.65,39.23 L494.96,37.24 L495.27,35.48 L495.57,33.98 L495.88,32.78 L496.19,31.90 L496.50,31.37 L496.81,31.20 L497.12,31.42 L497.43,32.04 L497.73,33.04 L498.04,34.41 L498.35,36.10 L498.66,38.07 L498.97,40.27 L499.27,42.65 L499.58,45.15 L499.89,47.72 L500.20,50.31 L500.51,52.86 L500.82,55.35 L501.12,57.73 L501.43,59.97 L501.74,62.06 L502.05,63.97 L502.36,65.70 L502.67,67.25 L502.98,68.62 L503.28,69.81 L503.59,70.84 L503.90,71.72 L504.21,72.46 L504.52,73.08 L504.82,73.59 L505.13,74.01 L505.44,74.34 L505.75,74.61 L506.06,74.83 L506.37,74.99 L506.68,75.12 L506.98,75.22 L507.29,75.29 L507.60,75.35 L507.91,75.39 L508.22,75.42 L508.52,75.45 L508.83,75.46 L509.14,75.47 L509.45,75.48 L509.76,75.49 L510.07,75.49 L510.38,75.49 L510.68,75.50 L510.99,75.50 L511.30,75.50 L511.61,75.50 L511.92,75.50 L512.23,75.50 L512.53,75.50 L512.84,75.50 L513.15,75.50 L513.46,75.50 L513.77,75.50 L514.08,75.50 L514.38,75.50 L514.69,75.50 L515.00,75.50" stroke="#111" stroke-width="1.05" fill="none" stroke-linejoin="round" />
<path d="M478.00,75.50 L478.32,75.50 L478.65,75.50 L478.98,75.50 L479.30,75.50 L479.62,75.50 L479.95,75.50 L480.27,75.50 L480.60,75.50 L480.93,75.50 L481.25,75.50 L481.57,75.50 L481.90,75.50 L482.23,75.50 L482.55,75.50 L482.88,75.50 L483.20,75.50 L483.52,75.50 L483.85,75.50 L484.18,75.50 L484.50,75.50 L484.82,75.50 L485.15,75.50 L485.48,75.49 L485.80,75.49 L486.12,75.49 L486.45,75.48 L486.77,75.48 L487.10,75.46 L487.43,75.45 L487.75,75.43 L488.07,75.40 L488.40,75.36 L488.73,75.31 L489.05,75.24 L489.38,75.15 L489.70,75.03 L490.02,74.88 L490.35,74.68 L490.68,74.44 L491.00,74.13 L491.32,73.75 L491.65,73.28 L491.98,72.71 L492.30,72.03 L492.62,71.22 L492.95,70.28 L493.27,69.18 L493.60,67.92 L493.93,66.49 L494.25,64.89 L494.57,63.12 L494.90,61.19 L495.23,59.10 L495.55,56.88 L495.88,54.56 L496.20,52.16 L496.52,49.72 L496.85,47.28 L497.18,44.89 L497.50,42.61 L497.82,40.47 L498.15,38.54 L498.48,36.85 L498.80,35.45 L499.12,34.38 L499.45,33.67 L499.77,33.33 L500.10,33.39 L500.43,33.94 L500.75,34.96 L501.07,36.42 L501.40,38.26 L501.73,40.43 L502.05,42.86 L502.38,45.47 L502.70,48.20 L503.02,50.97 L503.35,53.72 L503.68,56.38 L504.00,58.91 L504.32,61.28 L504.65,63.45 L504.98,65.41 L505.30,67.15 L505.62,68.67 L505.95,69.98 L506.27,71.09 L506.60,72.01 L506.93,72.78 L507.25,73.40 L507.57,73.90 L507.90,74.29 L508.23,74.60 L508.55,74.84 L508.88,75.02 L509.20,75.15 L509.52,75.25 L509.85,75.33 L510.18,75.38 L510.50,75.42 L510.82,75.44 L511.15,75.46 L511.48,75.48 L511.80,75.48 L512.12,75.49 L512.45,75.49 L512.77,75.50 L513.10,75.50 L513.42,75.50 L513.75,75.50 L514.08,75.50 L514.40,75.50 L514.73,75.50 L515.05,75.50 L515.38,75.50 L515.70,75.50 L516.02,75.50 L516.35,75.50 L516.67,75.50 L517.00,75.50" stroke="#1a1a1a" stroke-width="1.05" fill="none" stroke-linejoin="round" />
<line x1="502.6" y1="42.9" x2="504.6" y2="42.1" stroke="#111" stroke-width="0.6" />
<text transform="translate(504.07,44.60) scale(1.254,1)" font-size="6.6" fill="#1e1e1e">c</text>
<line x1="504.2" y1="56.6" x2="510.0" y2="51.8" stroke="#111" stroke-width="0.6" />
<text transform="translate(507.99,55.50) scale(1.339,1)" font-size="6.6" fill="#1e1e1e">Mg</text>
<text transform="translate(0.26,117.60) scale(0.956,1)" font-size="11.5" font-weight="bold" fill="#111">C</text>
<line x1="42.8" y1="134.0" x2="42.8" y2="205.5" stroke="#111" stroke-width="1.15" />
<line x1="42.3" y1="205.0" x2="151" y2="205.0" stroke="#111" stroke-width="1.15" />
<line x1="41.3" y1="205.0" x2="42.8" y2="205.0" stroke="#111" stroke-width="0.8" />
<text transform="translate(36.36,207.55) scale(1.000,1)" font-size="7.2" fill="#1e1e1e">0</text>
<line x1="41.3" y1="194.85714285714286" x2="42.8" y2="194.85714285714286" stroke="#111" stroke-width="0.8" />
<text transform="translate(36.43,197.41) scale(1.000,1)" font-size="7.2" fill="#1e1e1e">1</text>
<line x1="41.3" y1="184.71428571428572" x2="42.8" y2="184.71428571428572" stroke="#111" stroke-width="0.8" />
<text transform="translate(36.46,187.26) scale(1.000,1)" font-size="7.2" fill="#1e1e1e">2</text>
<line x1="41.3" y1="174.57142857142858" x2="42.8" y2="174.57142857142858" stroke="#111" stroke-width="0.8" />
<text transform="translate(36.39,177.12) scale(1.000,1)" font-size="7.2" fill="#1e1e1e">3</text>
<line x1="41.3" y1="164.42857142857144" x2="42.8" y2="164.42857142857144" stroke="#111" stroke-width="0.8" />
<text transform="translate(36.32,166.98) scale(1.000,1)" font-size="7.2" fill="#1e1e1e">4</text>
<line x1="41.3" y1="154.28571428571428" x2="42.8" y2="154.28571428571428" stroke="#111" stroke-width="0.8" />
<text transform="translate(36.39,156.84) scale(1.000,1)" font-size="7.2" fill="#1e1e1e">5</text>
<line x1="41.3" y1="144.14285714285714" x2="42.8" y2="144.14285714285714" stroke="#111" stroke-width="0.8" />
<text transform="translate(36.39,146.69) scale(1.000,1)" font-size="7.2" fill="#1e1e1e">6</text>
<line x1="41.3" y1="134.0" x2="42.8" y2="134.0" stroke="#111" stroke-width="0.8" />
<text transform="translate(36.46,136.55) scale(1.000,1)" font-size="7.2" fill="#1e1e1e">7</text>
<line x1="69" y1="205.0" x2="69" y2="206.3" stroke="#111" stroke-width="0.7" />
<line x1="96" y1="205.0" x2="96" y2="206.3" stroke="#111" stroke-width="0.7" />
<line x1="122" y1="205.0" x2="122" y2="206.3" stroke="#111" stroke-width="0.7" />
<line x1="151" y1="205.0" x2="151" y2="206.3" stroke="#111" stroke-width="0.7" />
<text transform="translate(29.20,203.95) rotate(-90) scale(0.967,1)" font-size="7.9" fill="#1e1e1e">Tether Frequency (%)</text>
<rect x="47.1" y="135.1" width="2.3" height="2.2" fill="#fff" stroke="#222" stroke-width="0.6" />
<text transform="translate(49.68,137.40) scale(1.083,1)" font-size="5.4" fill="#1e1e1e" style="stroke-width:0.16px">Transient</text>
<rect x="47.0" y="140.1" width="2.9" height="2.9" fill="#111" stroke="none" stroke-width="0" />
<text transform="translate(49.80,143.20) scale(1.163,1)" font-size="5.4" fill="#1e1e1e" style="stroke-width:0.16px">Arrest</text>
<rect x="48.4" y="195.7" width="15.0" height="9.300000000000011" fill="#000" stroke="#111" stroke-width="0.8" />
<rect x="48.4" y="192.8" width="15.0" height="2.8999999999999773" fill="#fff" stroke="#111" stroke-width="0.8" />
<line x1="56" y1="191.4" x2="56" y2="193" stroke="#111" stroke-width="0.7" />
<line x1="54.4" y1="191.4" x2="57.6" y2="191.4" stroke="#111" stroke-width="1.0" />
<rect x="101.2" y="150.7" width="15.6" height="54.30000000000001" fill="#000" stroke="#111" stroke-width="0.8" />
<rect x="101.2" y="141" width="15.6" height="9.699999999999989" fill="#fff" stroke="#111" stroke-width="0.8" />
<line x1="109.1" y1="137.2" x2="109.1" y2="150.7" stroke="#111" stroke-width="0.7" />
<line x1="107.5" y1="137.2" x2="110.69999999999999" y2="137.2" stroke="#111" stroke-width="1.0" />
<rect x="128.8" y="203.9" width="15.4" height="1.0999999999999943" fill="#000" stroke="#111" stroke-width="0.8" />
<line x1="136.5" y1="202.6" x2="136.5" y2="204" stroke="#111" stroke-width="0.7" />
<line x1="134.9" y1="202.6" x2="138.1" y2="202.6" stroke="#111" stroke-width="1.0" />
<text transform="translate(47.69,212.90) scale(0.941,1)" font-size="8.2" fill="#1e1e1e">cont.</text>
<text transform="translate(74.38,212.90) scale(0.951,1)" font-size="8.2" fill="#1e1e1e">LAD</text>
<text transform="translate(101.60,212.90) scale(0.929,1)" font-size="8.2" fill="#1e1e1e">cont.</text>
<text transform="translate(128.92,212.90) scale(1.032,1)" font-size="8.2" fill="#1e1e1e">LAD</text>
<text transform="translate(53.56,228.00) scale(1.055,1)" font-size="8.1" fill="#1e1e1e">0</text>
<text transform="translate(79.35,228.00) scale(1.080,1)" font-size="8.1" fill="#1e1e1e">0</text>
<text transform="translate(103.34,228.00) scale(0.974,1)" font-size="8.1" fill="#1e1e1e">470</text>
<text transform="translate(129.83,228.00) scale(1.035,1)" font-size="8.1" fill="#1e1e1e">470</text>
<text transform="translate(15.41,228.00) scale(0.944,1)" font-size="8.1" fill="#1e1e1e">ICAM-1</text>
<text transform="translate(16.39,237.30) scale(0.958,1)" font-size="8.0" fill="#1e1e1e">density</text>
<text transform="translate(1.04,246.20) scale(0.970,1)" font-size="7.9" fill="#1e1e1e">(CAM sites/μm<tspan font-size="4.6" dy="-2.8">2</tspan><tspan dy="2.8">)</tspan></text>
<text transform="translate(176.34,117.00) scale(1.018,1)" font-size="11.5" font-weight="bold" fill="#111">D</text>
<line x1="223.5" y1="134.6" x2="223.5" y2="205.1" stroke="#111" stroke-width="1.15" />
<line x1="223.0" y1="204.6" x2="330.5" y2="204.6" stroke="#111" stroke-width="1.15" />
<line x1="222.0" y1="204.6" x2="223.5" y2="204.6" stroke="#111" stroke-width="0.8" />
<text transform="translate(216.25,207.20) scale(1.000,1)" font-size="7.6" fill="#1e1e1e">0</text>
<line x1="222.0" y1="194.6" x2="223.5" y2="194.6" stroke="#111" stroke-width="0.8" />
<text transform="translate(212.03,197.20) scale(1.000,1)" font-size="7.6" fill="#1e1e1e">10</text>
<line x1="222.0" y1="184.6" x2="223.5" y2="184.6" stroke="#111" stroke-width="0.8" />
<text transform="translate(212.03,187.20) scale(1.000,1)" font-size="7.6" fill="#1e1e1e">20</text>
<line x1="222.0" y1="174.6" x2="223.5" y2="174.6" stroke="#111" stroke-width="0.8" />
<text transform="translate(212.03,177.20) scale(1.000,1)" font-size="7.6" fill="#1e1e1e">30</text>
<line x1="222.0" y1="164.6" x2="223.5" y2="164.6" stroke="#111" stroke-width="0.8" />
<text transform="translate(212.03,167.20) scale(1.000,1)" font-size="7.6" fill="#1e1e1e">40</text>
<line x1="222.0" y1="154.6" x2="223.5" y2="154.6" stroke="#111" stroke-width="0.8" />
<text transform="translate(212.03,157.20) scale(1.000,1)" font-size="7.6" fill="#1e1e1e">50</text>
<line x1="222.0" y1="144.6" x2="223.5" y2="144.6" stroke="#111" stroke-width="0.8" />
<text transform="translate(212.03,147.20) scale(1.000,1)" font-size="7.6" fill="#1e1e1e">60</text>
<line x1="222.0" y1="134.6" x2="223.5" y2="134.6" stroke="#111" stroke-width="0.8" />
<text transform="translate(212.03,137.20) scale(1.000,1)" font-size="7.6" fill="#1e1e1e">70</text>
<line x1="252" y1="204.6" x2="252" y2="205.9" stroke="#111" stroke-width="0.7" />
<line x1="278" y1="204.6" x2="278" y2="205.9" stroke="#111" stroke-width="0.7" />
<line x1="303.2" y1="204.6" x2="303.2" y2="205.9" stroke="#111" stroke-width="0.7" />
<line x1="330.5" y1="204.6" x2="330.5" y2="205.9" stroke="#111" stroke-width="0.7" />
<text transform="translate(204.10,204.15) rotate(-90) scale(0.964,1)" font-size="7.9" fill="#1e1e1e">Tether Frequency (%)</text>
<rect x="229.0" y="134.0" width="2.8" height="2.6" fill="#fff" stroke="#444" stroke-width="0.6" />
<text transform="translate(233.28,137.10) scale(1.053,1)" font-size="5.6" fill="#1e1e1e" style="stroke-width:0.16px">Transient</text>
<rect x="229.0" y="141.1" width="2.8" height="2.6" fill="#b8b8b8" stroke="#888" stroke-width="0.5" />
<text transform="translate(232.92,143.90) scale(1.074,1)" font-size="5.6" fill="#1e1e1e" style="stroke-width:0.16px">Rolling</text>
<rect x="229.0" y="147.6" width="2.8" height="2.7" fill="#111" stroke="none" stroke-width="0" />
<text transform="translate(233.40,150.60) scale(1.047,1)" font-size="5.6" fill="#1e1e1e" style="stroke-width:0.16px">Arrest</text>
<rect x="229.6" y="186.3" width="17.6" height="18.299999999999983" fill="#000" stroke="#111" stroke-width="0.8" />
<line x1="238.2" y1="185" x2="238.2" y2="186.1" stroke="#111" stroke-width="0.7" />
<line x1="236.6" y1="185" x2="239.79999999999998" y2="185" stroke="#111" stroke-width="1.0" />
<rect x="257.8" y="201.2" width="14.6" height="3.4000000000000057" fill="#000" stroke="#111" stroke-width="0.8" />
<rect x="257.8" y="180.1" width="14.6" height="21.099999999999994" fill="#bcbcbc" stroke="#111" stroke-width="0.8" />
<rect x="257.8" y="170.2" width="14.6" height="9.900000000000006" fill="#fff" stroke="#111" stroke-width="0.8" />
<line x1="265.1" y1="169.1" x2="265.1" y2="170.2" stroke="#111" stroke-width="0.7" />
<line x1="263.5" y1="169.1" x2="266.70000000000005" y2="169.1" stroke="#111" stroke-width="1.0" />
<rect x="283.6" y="163.3" width="15.2" height="41.29999999999998" fill="#000" stroke="#111" stroke-width="0.8" />
<line x1="291.2" y1="160.9" x2="291.2" y2="163.3" stroke="#111" stroke-width="0.7" />
<line x1="289.59999999999997" y1="160.9" x2="292.8" y2="160.9" stroke="#111" stroke-width="1.0" />
<rect x="308.4" y="188.7" width="15.1" height="15.900000000000006" fill="#000" stroke="#111" stroke-width="0.8" />
<rect x="308.4" y="150.2" width="15.1" height="38.5" fill="#bcbcbc" stroke="#111" stroke-width="0.8" />
<rect x="308.4" y="143.9" width="15.1" height="6.299999999999983" fill="#fff" stroke="#111" stroke-width="0.8" />
<line x1="316" y1="139.7" x2="316" y2="143.9" stroke="#111" stroke-width="0.7" />
<line x1="314.4" y1="139.7" x2="317.6" y2="139.7" stroke="#111" stroke-width="1.0" />
<line x1="316" y1="148.3" x2="316" y2="150.2" stroke="#111" stroke-width="0.7" />
<line x1="314.4" y1="148.3" x2="317.6" y2="148.3" stroke="#111" stroke-width="1.0" />
<line x1="316" y1="187.2" x2="316" y2="188.7" stroke="#111" stroke-width="0.7" />
<line x1="314.4" y1="187.2" x2="317.6" y2="187.2" stroke="#111" stroke-width="1.0" />
<text transform="translate(230.07,212.90) scale(1.013,1)" font-size="8.2" fill="#1e1e1e">cont.</text>
<text transform="translate(256.34,212.90) scale(1.005,1)" font-size="8.2" fill="#1e1e1e">LAD</text>
<text transform="translate(282.08,212.90) scale(0.965,1)" font-size="8.2" fill="#1e1e1e">cont.</text>
<text transform="translate(308.24,212.90) scale(1.012,1)" font-size="8.2" fill="#1e1e1e">LAD</text>
<text transform="translate(235.54,228.00) scale(0.962,1)" font-size="8.1" fill="#1e1e1e">47</text>
<text transform="translate(261.44,228.00) scale(0.962,1)" font-size="8.1" fill="#1e1e1e">47</text>
<text transform="translate(284.53,228.00) scale(1.020,1)" font-size="8.1" fill="#1e1e1e">470</text>
<text transform="translate(309.84,228.00) scale(1.012,1)" font-size="8.1" fill="#1e1e1e">470</text>
<text transform="translate(190.46,228.00) scale(0.938,1)" font-size="8.1" fill="#1e1e1e">VCAM-1</text>
<text transform="translate(192.60,237.30) scale(0.938,1)" font-size="8.0" fill="#1e1e1e">density</text>
<text transform="translate(176.33,246.20) scale(0.987,1)" font-size="7.9" fill="#1e1e1e">(CAM sites/μm<tspan font-size="4.6" dy="-2.8">2</tspan><tspan dy="2.8">)</tspan></text>
</svg>
</body></html>
